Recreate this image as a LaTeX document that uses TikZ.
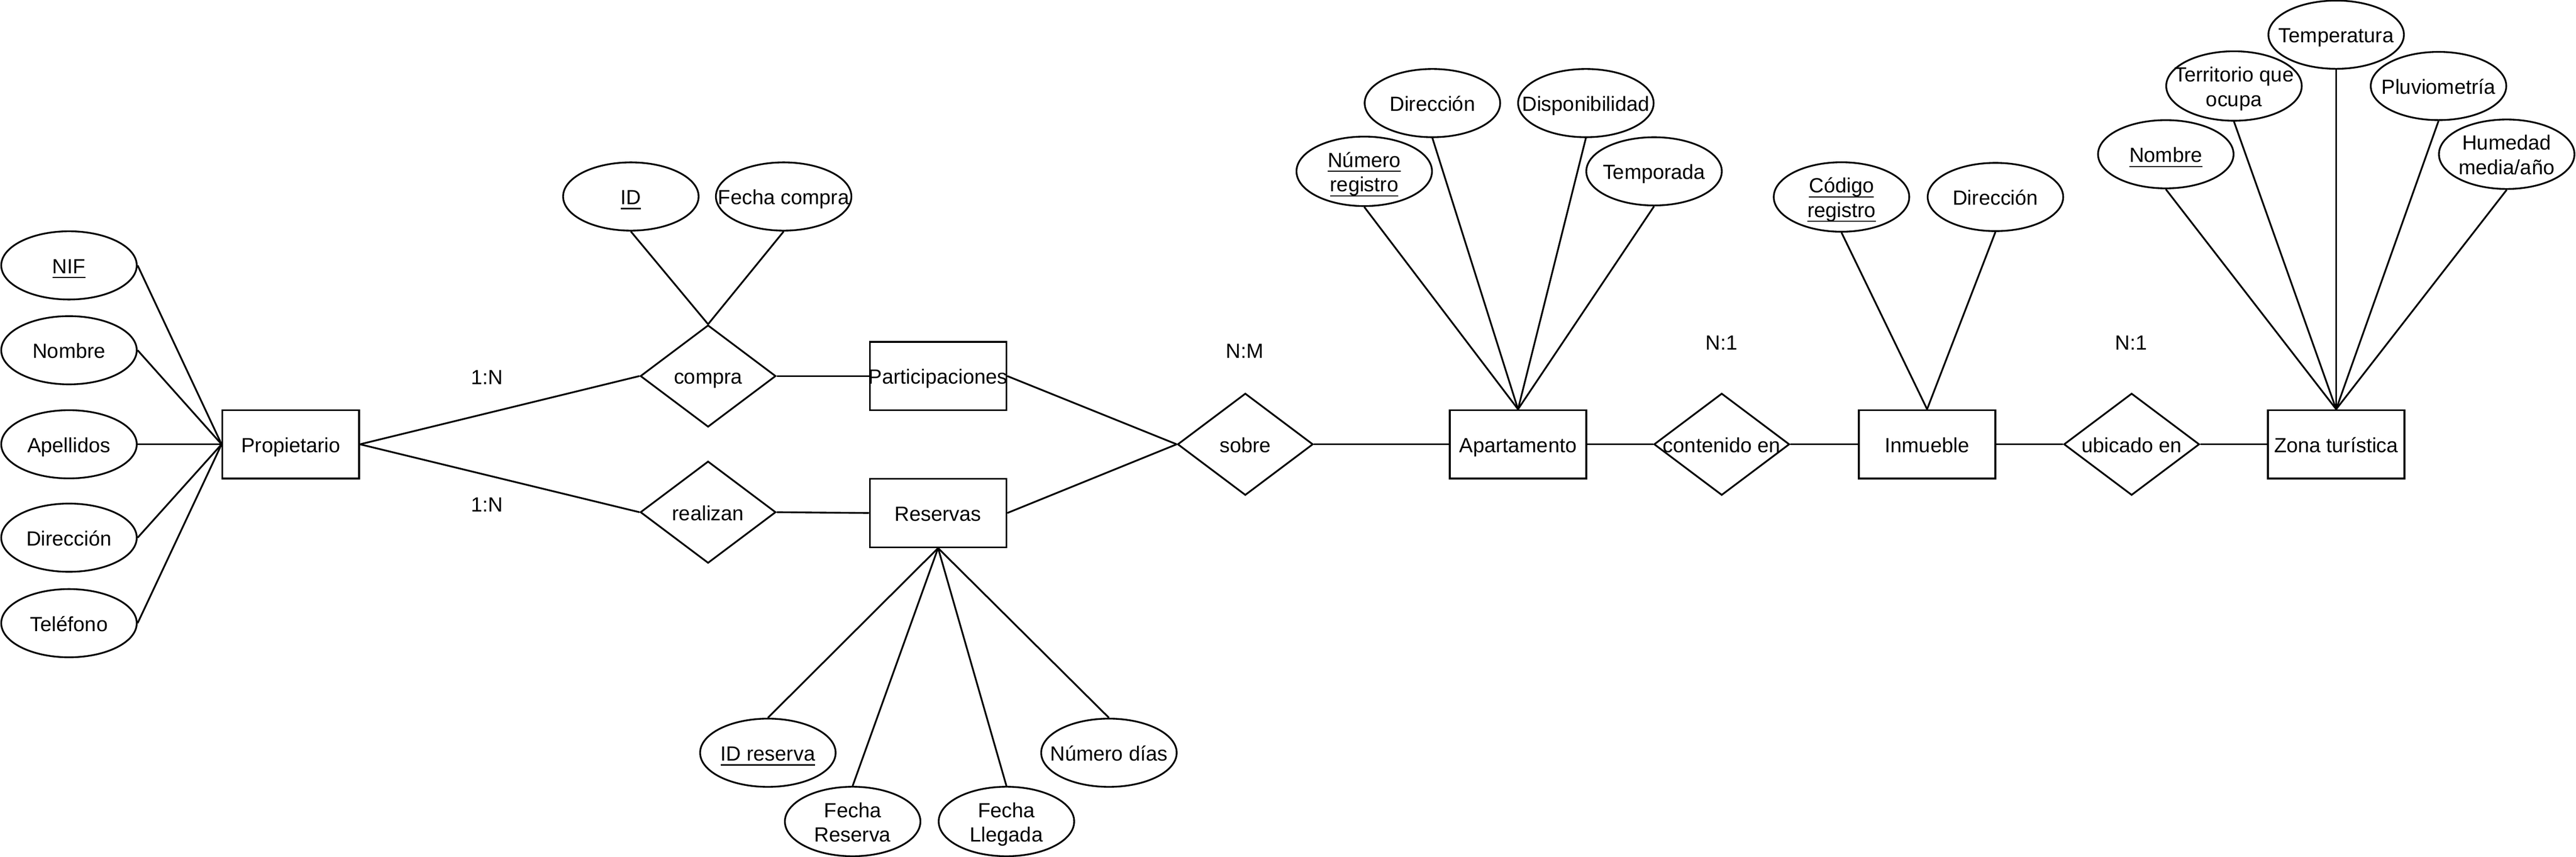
\documentclass[tikz,border=0pt]{standalone}
\usepackage{fontspec}
\setmainfont{Liberation Sans}
\usepackage{tikz}
\usetikzlibrary{shapes.geometric}

\newcommand{\erlabel}[1]{\makebox[0pt]{\raisebox{-1.1pt}[\height][\depth]{\begin{tabular}{@{}c@{}}#1\end{tabular}}}}
\newcommand{\erkey}[1]{\underline{\smash{#1}}}

\begin{document}
\begin{tikzpicture}[x=0.02cm, y=-0.02cm, line width=0.6pt, font=\fontsize{7.1}{8.5}\selectfont]

\tikzset
  {
    entity/.style=    {draw, rectangle, minimum width=1.664cm, minimum height=0.832cm, inner sep=0pt},
    relation/.style=  {draw, diamond, minimum width=1.65cm, minimum height=1.24cm, inner sep=0pt},
    attribute/.style= {draw, ellipse, minimum width=1.65cm, minimum height=0.83cm, inner sep=0pt},
    cardinality/.style= {inner sep=0pt}
  }

\useasboundingbox (0,0) rectangle (1568,521);

% entities
\node[entity] (prop) at (177,270.2) {\erlabel{Propietario}};
\node[entity] (part) at (571,228.7) {\erlabel{Participaciones}};
\node[entity] (res) at (571,312) {\erlabel{Reservas}};
\node[entity] (apt) at (924,270.2) {\erlabel{Apartamento}};
\node[entity] (inm) at (1173,270.2) {\erlabel{Inmueble}};
\node[entity] (zona) at (1422,270.2) {\erlabel{Zona turística}};

% relations
\node[relation] (compra) at (431,228.7) {\erlabel{compra}};
\node[relation] (realizan) at (431,311.5) {\erlabel{realizan}};
\node[relation] (sobre) at (758,270.2) {\erlabel{sobre}};
\node[relation] (contenido) at (1048,270.2) {\erlabel{contenido en}};
\node[relation] (ubicado) at (1297.5,270.2) {\erlabel{ubicado en}};

% attributes Propietario
\node[attribute] (nif) at (42,161.4) {\erlabel{\erkey{NIF}}};
\node[attribute] (pnombre) at (42,213) {\erlabel{Nombre}};
\node[attribute] (papellidos) at (42,270.2) {\erlabel{Apellidos}};
\node[attribute] (pdir) at (42,327) {\erlabel{Dirección}};
\node[attribute] (ptel) at (42,379) {\erlabel{Teléfono}};

% attributes compra
\node[attribute] (cid) at (384,119.5) {\erlabel{\erkey{ID}}};
\node[attribute] (cfecha) at (477,119.5) {\erlabel{Fecha compra}};

% attributes Reservas
\node[attribute] (rid) at (467.4,457.8) {\erlabel{\erkey{ID reserva}}};
\node[attribute] (rfres) at (519,499.6) {\erlabel{Fecha\\Reserva}};
\node[attribute] (rflleg) at (612.6,499.6) {\erlabel{Fecha\\Llegada}};
\node[attribute] (rdias) at (675,457.8) {\erlabel{Número días}};

% attributes Apartamento
\node[attribute] (anum) at (830.4,104.2) {\erlabel{\erkey{Número}\\\erkey{registro}}};
\node[attribute] (adir) at (871.9,62.7) {\erlabel{Dirección}};
\node[attribute] (adisp) at (965.3,62.7) {\erlabel{Disponibilidad}};
\node[attribute] (atemp) at (1006.8,104.2) {\erlabel{Temporada}};

% attributes Inmueble
\node[attribute] (icod) at (1120.9,119.8) {\erlabel{\erkey{Código}\\\erkey{registro}}};
\node[attribute] (idir) at (1214.6,119.8) {\erlabel{Dirección}};

% attributes Zona turistica
\node[attribute] (znombre) at (1318.3,93.8) {\erlabel{\erkey{Nombre}}};
\node[attribute] (zterr) at (1359.8,52.3) {\erlabel{Territorio que\\ocupa}};
\node[attribute] (ztemp) at (1422,21.1) {\erlabel{Temperatura}};
\node[attribute] (zpluv) at (1484.3,52.3) {\erlabel{Pluviometría}};
\node[attribute] (zhum) at (1525.8,93.8) {\erlabel{Humedad\\media/año}};

% cardinalities
\node[cardinality] (c1) at (296.5,229.5) {1:N};
\node[cardinality] (c2) at (296.5,307) {1:N};
\node[cardinality] (c3) at (757.7,213.5) {N:M};
\node[cardinality] (c4) at (1047.8,208.4) {N:1};
\node[cardinality] (c5) at (1297.3,208.4) {N:1};

% links
\draw (prop.east) -- (compra.west);
\draw (prop.east) -- (realizan.west);
\draw (compra.east) -- (part.west);
\draw (realizan.east) -- (res.west);
\draw (part.east) -- (sobre.west);
\draw (res.east) -- (sobre.west);
\draw (sobre.east) -- (apt.west);
\draw (apt.east) -- (contenido.west);
\draw (contenido.east) -- (inm.west);
\draw (inm.east) -- (ubicado.west);
\draw (ubicado.east) -- (zona.west);

\foreach \a in {nif,pnombre,papellidos,pdir,ptel}
\draw (\a.east) -- (prop.west);

\foreach \a in {cid,cfecha}
\draw (\a.south) -- (compra.north);

\foreach \a in {rid,rfres,rflleg,rdias}
\draw (\a.north) -- (res.south);

\foreach \a in {anum,adir,adisp,atemp}
\draw (\a.south) -- (apt.north);

\foreach \a in {icod,idir}
\draw (\a.south) -- (inm.north);

\foreach \a in {znombre,zterr,ztemp,zpluv,zhum}
\draw (\a.south) -- (zona.north);

\end{tikzpicture}
\end{document}
